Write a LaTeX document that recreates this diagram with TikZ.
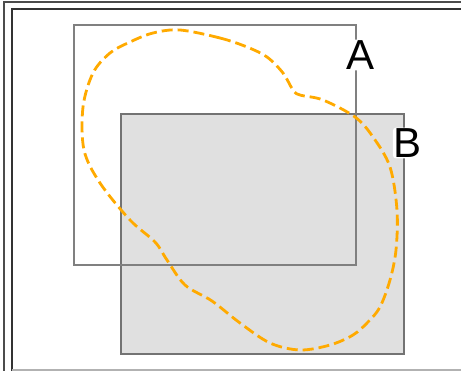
\documentclass[tikz,border=0pt]{standalone}
\usepackage{fontspec}
\setmainfont{Liberation Sans}
\usepackage{tikz}

\definecolor{boxfill}{HTML}{E0E0E0}
\definecolor{curveorange}{HTML}{FFAA00}

\tikzset{
  setlabel/.style={fill=white, rounded corners=3pt, inner sep=1pt, font=\fontsize{42}{48}\selectfont},
  setbox/.style={draw=black!50, line width=1.2pt},
}

\begin{document}
\begin{tikzpicture}[x=1pt, y=-1pt]
        \useasboundingbox (0,0) rectangle (461,371);

        % window frame
        \draw[black!70, line width=1.6pt] (4,380) -- (4,2) -- (470,2);
        \draw[black!80, line width=1.6pt] (12,380) -- (12,9) -- (470,9);
        \draw[black!30, line width=1.6pt] (12,370) -- (470,370);

        % the two sets
        \draw[setbox, fill=boxfill, draw=black!55, line width=1.5pt] (121,114) rectangle (404,354);
        \draw[setbox] (74,25) rectangle (356,265);

        % dashed region
        \draw[curveorange, line width=2.8pt, dash pattern=on 11pt off 5pt]
            plot[smooth cycle, tension=0.55] coordinates {
              (180,30) (220,38) (247,47) (267,57) (283,73) (293,90) (300,95)
              (323,100) (355,117) (373,137) (390,167) (397,210) (396,250)
              (390,280) (380,307) (368,322) (353,335) (330,345) (300,350)
              (270,343) (240,323) (212,301) (185,285) (167,260) (155,242)
              (130,220) (100,183) (84,150) (83,107) (93,73) (110,53)
              (130,42) (153,33)};

        \node[setlabel] (labA) at (361,55) {A};
        \node[setlabel] (labB) at (408,143) {B};
\end{tikzpicture}
\end{document}
